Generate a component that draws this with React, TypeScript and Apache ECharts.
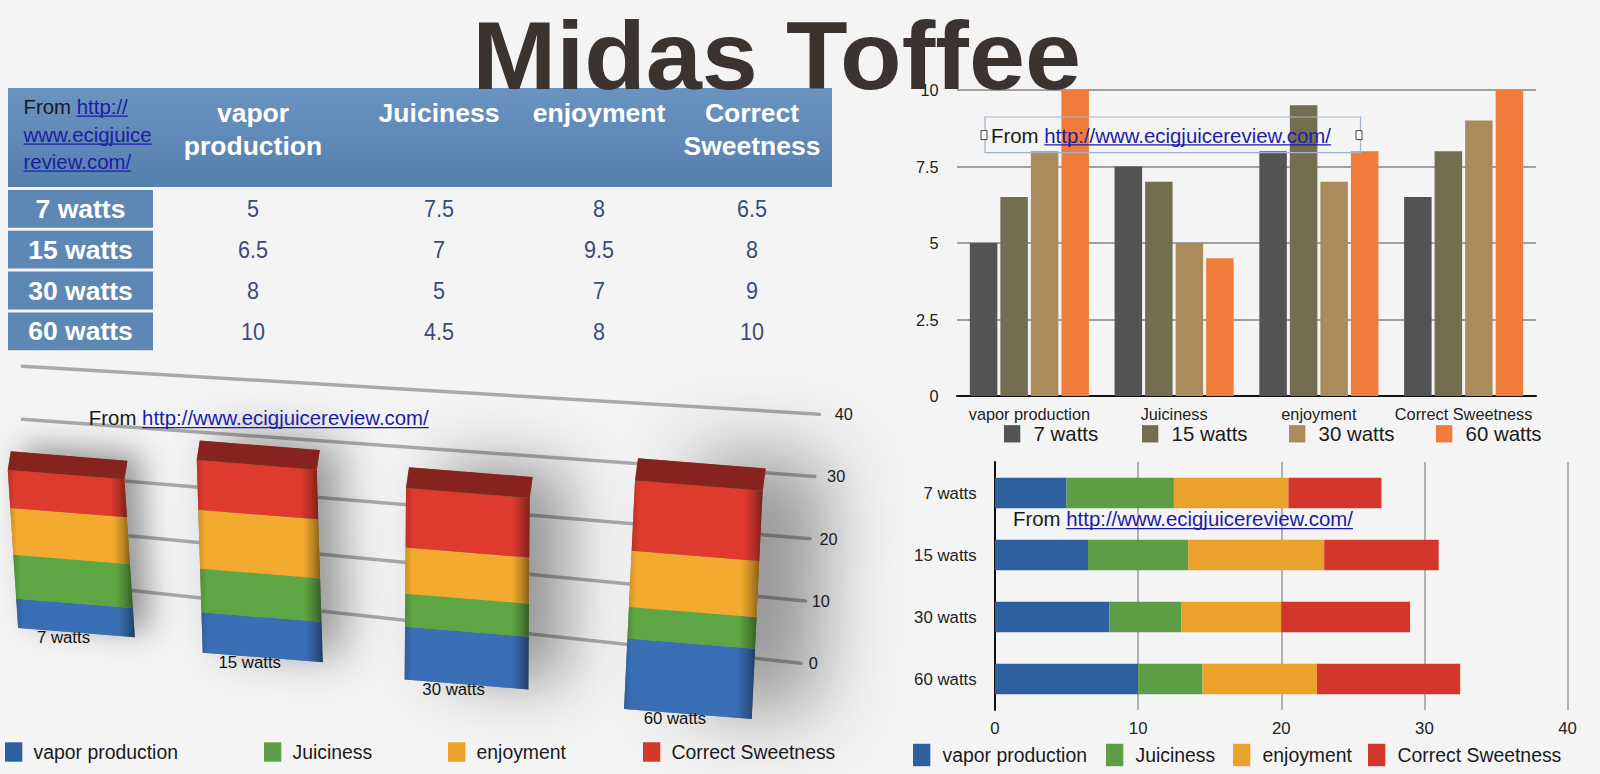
import { useEffect, useRef } from "react";
import * as echarts from "echarts";

// ---- data ----
const TITLE = "Midas Toffee";
const SOURCE_URL = "http://www.ecigjuicereview.com/";
const WATTS = ["7 watts", "15 watts", "30 watts", "60 watts"];
const METRICS = ["vapor production", "Juiciness", "enjoyment", "Correct Sweetness"];
// one value per wattage, same order as WATTS
const VAPOR_PRODUCTION = [5, 6.5, 8, 10];
const JUICINESS = [7.5, 7, 5, 4.5];
const ENJOYMENT = [8, 9.5, 7, 8];
const CORRECT_SWEETNESS = [6.5, 8, 9, 10];
const SCORES = [VAPOR_PRODUCTION, JUICINESS, ENJOYMENT, CORRECT_SWEETNESS];
const SCORE_TICKS = { min: 0, max: 10, step: 2.5 };
const TOTAL_TICKS = [0, 10, 20, 30, 40];

// ---- styling ----
const FONT = "'Liberation Sans', Arial, Helvetica, sans-serif";
const BG = "#f4f4f4";
const INK = "#1a1a1a";
const LINK = "#1d1ca6";
const WATT_COLORS = ["#535353", "#726e4f", "#a98b5c", "#ef7c3a"];
const METRIC_COLORS = ["#2e5f9f", "#5c9d45", "#eaa22d", "#d3362b"];
const BLOCK_COLORS = ["#3a6fb5", "#5ea643", "#f2ab2e", "#de3a2e"];

// perspective used to fake the 3D block chart (bottom left)
const P3 = {
  x0: 76.5,
  squeeze: 0.87,
  curve: 0.043,
  baseSlope: 0.133,
  scale0: 0.932,
  scaleK: 0.000313,
  halfW0: 57.7,
  halfWK: 0.009,
  vanishX: 428.6,
  leanK: 0.000186,
  skew: 0.08,
  depth: 19.4,
  depthDx: 3,
};
const WALL = { left: 22.4, endX0: 801, endXK: 0.46, leftDrop: -43.9, leftSpan: 0.867, rightDrop: 40.8, rightSpan: 1.017, labelGap: 12.2, labelK: 0.306 };
const SHADOW = { off0: 15, offK: 0.0001, blur0: 25, blurK: 0.08 };

function font(size: number, weight = "normal") {
  return `${weight} ${size}px ${FONT}`;
}

let measureCtx: CanvasRenderingContext2D | null = null;
function textWidth(text: string, size: number, weight = "normal") {
  if (!measureCtx) measureCtx = document.createElement("canvas").getContext("2d");
  if (!measureCtx) return text.length * size * 0.5;
  measureCtx.font = font(size, weight);
  return measureCtx.measureText(text).width;
}

function shade(hex: string, f: number) {
  const n = parseInt(hex.slice(1), 16);
  const c = (v: number) => Math.max(0, Math.min(255, Math.round(v * f)));
  return `rgb(${c((n >> 16) & 255)},${c((n >> 8) & 255)},${c(n & 255)})`;
}

function txt(x: number, y: number, text: string, size: number, o: any = {}) {
  const align = o.align || "left";
  return {
    type: "text",
    x,
    y,
    z: o.z ?? 10,
    scaleX: o.scaleX ?? 1,
    style: {
      text,
      font: font(size, o.weight),
      fill: o.fill || INK,
      align,
      textAlign: align,
      verticalAlign: "middle",
      textVerticalAlign: "middle",
    },
  };
}

function sourceNote(x: number, y: number, size: number, lead: string, url: string) {
  const lw = lead ? textWidth(lead, size) : 0;
  const uw = textWidth(url, size);
  const uy = y + size * 0.45;
  const out: any[] = [];
  if (lead) out.push(txt(x, y, lead, size, { z: 20 }));
  out.push(txt(x + lw, y, url, size, { fill: LINK, z: 20 }));
  out.push({ type: "line", z: 20, shape: { x1: x + lw, y1: uy, x2: x + lw + uw, y2: uy }, style: { stroke: LINK, lineWidth: 1.3 } });
  return out;
}

function tableGraphics() {
  const T = { left: 8, right: 832, top: 88, headBottom: 187, labelRight: 153, rowTop: 190, rowPitch: 40.8, rowH: 37.8 };
  const colX = [253, 439, 599, 752];
  const blue = "#5d88b5";
  const els: any[] = [];
  els.push({
    type: "rect",
    z: 5,
    shape: { x: T.left, y: T.top, width: T.right - T.left, height: T.headBottom - T.top },
    style: { fill: new echarts.graphic.LinearGradient(0, 0, 0, 1, [{ offset: 0, color: "#6994c1" }, { offset: 1, color: "#557fad" }]) },
  });
  METRICS.forEach((name, m) => {
    name.split(" ").forEach((word, k) => {
      els.push(txt(colX[m], 113 + k * 32.7, word, 26.5, { align: "center", weight: "bold", fill: "#fff" }));
    });
  });
  els.push(...sourceNote(23.5, 107, 20.4, "From ", SOURCE_URL.slice(0, 7)));
  els.push(...sourceNote(23.5, 135, 20.4, "", SOURCE_URL.slice(7, 20)));
  els.push(...sourceNote(23.5, 162, 20.4, "", SOURCE_URL.slice(20)));
  WATTS.forEach((w, j) => {
    const y = T.rowTop + j * T.rowPitch;
    els.push({ type: "rect", z: 5, shape: { x: T.left, y, width: T.labelRight - T.left, height: T.rowH }, style: { fill: blue } });
    els.push(txt((T.left + T.labelRight) / 2, y + T.rowH / 2, w, 26.5, { align: "center", weight: "bold", fill: "#fff" }));
    SCORES.forEach((arr, m) => {
      els.push(txt(colX[m], y + T.rowH / 2, String(arr[j]), 24.5, { align: "center", fill: "#3a4c78", scaleX: 0.88 }));
    });
  });
  return els;
}

function legendItem(name: string, left: number, centerY: number, size: number, iw: number, ih: number, gap: number) {
  return {
    data: [name],
    left,
    top: centerY - Math.max(ih, size) / 2,
    padding: 0,
    icon: "rect",
    itemWidth: iw,
    itemHeight: ih,
    selectedMode: false,
    textStyle: { fontSize: size, color: INK, fontFamily: FONT, padding: [0, 0, 0, gap - 5] },
  };
}

// ---- 3D block chart helpers ----
function project(api: any, j: number) {
  const first = api.coord([0, 0]);
  const here = api.coord([j, 0]);
  const band = api.size([1, 0])[0];
  const t = (here[0] - first[0]) / band;
  const x = P3.x0 + band * t * (P3.squeeze + P3.curve * t);
  return {
    x,
    base: here[1] + P3.baseSlope * x,
    k: P3.scale0 + P3.scaleK * x,
    hw: P3.halfW0 + P3.halfWK * x,
    lean: (x - P3.vanishX) * P3.leanK,
    unit: api.size([0, 1])[1],
  };
}

function bevel(c: string) {
  return new echarts.graphic.LinearGradient(0, 0, 1, 0, [
    { offset: 0, color: shade(c, 0.85) },
    { offset: 0.06, color: c },
    { offset: 0.86, color: c },
    { offset: 0.94, color: shade(c, 0.78) },
    { offset: 1, color: shade(c, 0.55) },
  ]);
}

function blockOutline(p: any, h0: number, h1: number, withTop: boolean) {
  const pt = (dx: number, h: number) => [p.x + dx + p.lean * h, p.base - h + P3.skew * dx];
  const a = pt(-p.hw, h1);
  const b = pt(p.hw, h1);
  const d = P3.depth * p.k;
  const front = [pt(-p.hw, h0), pt(p.hw, h0), b, a];
  const top = [a, b, [b[0] + P3.depthDx, b[1] - d], [a[0] + P3.depthDx, a[1] - d]];
  const silhouette = withTop ? [front[0], front[1], b, top[2], top[3], a] : front;
  return { front, top, silhouette };
}

function renderBlock(m: number) {
  return (_params: any, api: any) => {
    const j = api.value(0);
    const p = project(api, j);
    const isTop = m === SCORES.length - 1;
    const o = blockOutline(p, api.value(1) * p.unit * p.k, api.value(2) * p.unit * p.k, isTop);
    const c = BLOCK_COLORS[m];
    const children: any[] = [{ type: "polygon", shape: { points: o.front }, style: { fill: bevel(c) } }];
    if (isTop) children.push({ type: "polygon", shape: { points: o.top }, style: { fill: shade(c, 0.6) } });
    return { type: "group", children };
  };
}

// hidden silhouette behind each block that only contributes its blurred drop shadow
function renderShadow(_params: any, api: any) {
  const j = api.value(0);
  const p = project(api, j);
  const o = blockOutline(p, 0, api.value(1) * p.unit * p.k, true);
  return {
    type: "polygon",
    shape: { points: o.silhouette },
    style: {
      fill: "#8a8a8a",
      shadowColor: "rgba(0,0,0,0.4)",
      shadowBlur: SHADOW.blur0 + SHADOW.blurK * p.x,
      shadowOffsetX: SHADOW.off0 + SHADOW.offK * p.x * p.x,
      shadowOffsetY: -6,
    },
  };
}

function renderWall(_params: any, api: any) {
  const v = api.value(1);
  const y0 = api.coord([0, 0])[1];
  const unit = api.size([0, 1])[1];
  const xR = WALL.endX0 + WALL.endXK * v;
  const yL = y0 + WALL.leftDrop - v * unit * WALL.leftSpan;
  const yR = y0 + WALL.rightDrop - v * unit * WALL.rightSpan;
  return {
    type: "group",
    children: [
      { type: "line", shape: { x1: WALL.left, y1: yL, x2: xR, y2: yR }, style: { stroke: "#a9a9a9", lineWidth: 3.5, lineCap: "round" } },
      txt(xR + WALL.labelGap + WALL.labelK * v, yR, String(v), 16.3, { align: "center", fill: "#222" }),
    ],
  };
}

function renderBlockLabel(_params: any, api: any) {
  const j = api.value(0);
  const p = project(api, j);
  return txt(p.x - 13, p.base + 5, WATTS[j], 16.8, { align: "center", fill: "#111" });
}

function buildOption() {
  const totals = WATTS.map((_, j) => SCORES.reduce((s, arr) => s + arr[j], 0));
  const stackRows = (m: number) =>
    WATTS.map((_, j) => {
      let base = 0;
      for (let k = 0; k < m; k++) base += SCORES[k][j];
      return [j, base, base + SCORES[m][j]];
    });

  const axisText = { fontFamily: FONT, color: "#222" };

  const series: any[] = [];
  // grouped bars, top right
  WATTS.forEach((w, j) => {
    series.push({
      name: w,
      type: "bar",
      xAxisIndex: 0,
      yAxisIndex: 0,
      data: SCORES.map((arr) => arr[j]),
      barWidth: 27.5,
      barGap: "11%",
      itemStyle: { color: WATT_COLORS[j] },
    });
  });
  // stacked horizontal bars, bottom right
  METRICS.forEach((name, m) => {
    series.push({
      name,
      type: "bar",
      stack: "total",
      xAxisIndex: 1,
      yAxisIndex: 1,
      data: SCORES[m],
      barWidth: 30.6,
      itemStyle: { color: METRIC_COLORS[m] },
    });
  });
  // fake 3D stacked blocks, bottom left
  series.push({
    name: "wall",
    type: "custom",
    xAxisIndex: 2,
    yAxisIndex: 2,
    z: 1,
    clip: false,
    silent: true,
    renderItem: renderWall,
    data: TOTAL_TICKS.map((v) => [0, v]),
  });
  series.push({
    name: "shadow",
    type: "custom",
    xAxisIndex: 2,
    yAxisIndex: 2,
    z: 2,
    clip: false,
    silent: true,
    renderItem: renderShadow,
    data: totals.map((t, j) => [j, t]),
  });
  METRICS.forEach((name, m) => {
    series.push({
      name,
      type: "custom",
      xAxisIndex: 2,
      yAxisIndex: 2,
      z: 3,
      clip: false,
      itemStyle: { color: BLOCK_COLORS[m] },
      renderItem: renderBlock(m),
      data: stackRows(m),
    });
  });
  series.push({
    name: "block labels",
    type: "custom",
    xAxisIndex: 2,
    yAxisIndex: 2,
    z: 4,
    clip: false,
    silent: true,
    renderItem: renderBlockLabel,
    data: WATTS.map((_, j) => [j, 0]),
  });

  const wattLegendX = [1004, 1142, 1289, 1436];
  const blockLegendX = [5, 264, 448, 643];
  const barLegendX = [913, 1106, 1233, 1368];

  return {
    animation: false,
    backgroundColor: BG,
    textStyle: { fontFamily: FONT },
    grid: [
      { left: 957, top: 90, width: 579, height: 306 },
      { left: 995, top: 462, width: 572.5, height: 248 },
      { left: 0, top: 377.5, width: 816, height: 245 },
    ],
    xAxis: [
      {
        gridIndex: 0,
        type: "category",
        data: METRICS,
        axisLine: { lineStyle: { color: "#111", width: 2 } },
        axisTick: { show: false },
        axisLabel: { ...axisText, fontSize: 16.3, margin: 10, interval: 0 },
      },
      {
        gridIndex: 1,
        type: "value",
        min: 0,
        max: 40,
        interval: 10,
        axisLine: { show: false },
        axisTick: { show: false },
        axisLabel: { ...axisText, fontSize: 16.8, margin: 10 },
        splitLine: { lineStyle: { color: "#9b9b9b", width: 1.5 } },
      },
      { gridIndex: 2, type: "category", data: WATTS, show: false },
    ],
    yAxis: [
      {
        gridIndex: 0,
        type: "value",
        min: SCORE_TICKS.min,
        max: SCORE_TICKS.max,
        interval: SCORE_TICKS.step,
        axisLine: { show: false },
        axisTick: { show: false },
        axisLabel: { ...axisText, fontSize: 16.3, margin: 18.4 },
        splitLine: { lineStyle: { color: "#a0a0a0", width: 2 } },
      },
      {
        gridIndex: 1,
        type: "category",
        data: WATTS,
        inverse: true,
        axisLine: { show: true, lineStyle: { color: "#111", width: 2 } },
        axisTick: { show: false },
        axisLabel: { ...axisText, fontSize: 16.8, margin: 18.4 },
      },
      { gridIndex: 2, type: "value", min: 0, max: 40, show: false },
    ],
    legend: [
      ...WATTS.map((w, j) => legendItem(w, wattLegendX[j], 434, 20.4, 16.3, 17.3, 13.3)),
      ...METRICS.map((n, m) => legendItem(n, blockLegendX[m], 752, 19.4, 17.3, 19.4, 11.2)),
      ...METRICS.map((n, m) => legendItem(n, barLegendX[m], 755, 19.4, 17.3, 22.4, 12.2)),
    ],
    graphic: {
      elements: [
        ...tableGraphics(),
        { type: "rect", z: 20, shape: { x: 985, y: 117, width: 375.5, height: 35.7 }, style: { fill: "transparent", stroke: "#9fb4cc", lineWidth: 1.2 } },
        { type: "rect", z: 21, shape: { x: 981, y: 130.6, width: 6, height: 9 }, style: { fill: "#fff", stroke: "#444", lineWidth: 1 } },
        { type: "rect", z: 21, shape: { x: 1356, y: 130.6, width: 6, height: 9 }, style: { fill: "#fff", stroke: "#444", lineWidth: 1 } },
        ...sourceNote(991, 135.7, 20.4, "From ", SOURCE_URL),
        ...sourceNote(88.8, 418.4, 20.4, "From ", SOURCE_URL),
        ...sourceNote(1013, 519.4, 20.4, "From ", SOURCE_URL),
        txt(776.6, 55.4, TITLE, 97, { align: "center", weight: "bold", fill: "#3a3330", scaleX: 1.04, z: 50 }),
      ],
    },
    series,
  };
}

export default function App() {
  const ref = useRef<HTMLDivElement | null>(null);

  useEffect(() => {
    document.body.style.margin = "0";
    if (!ref.current) return;
    const chart = echarts.init(ref.current, undefined, { renderer: "svg" });
    chart.setOption(buildOption());
    return () => chart.dispose();
  }, []);

  return <div ref={ref} style={{ position: "absolute", left: 0, top: 0, width: 1600, height: 774, background: BG }} />;
}
